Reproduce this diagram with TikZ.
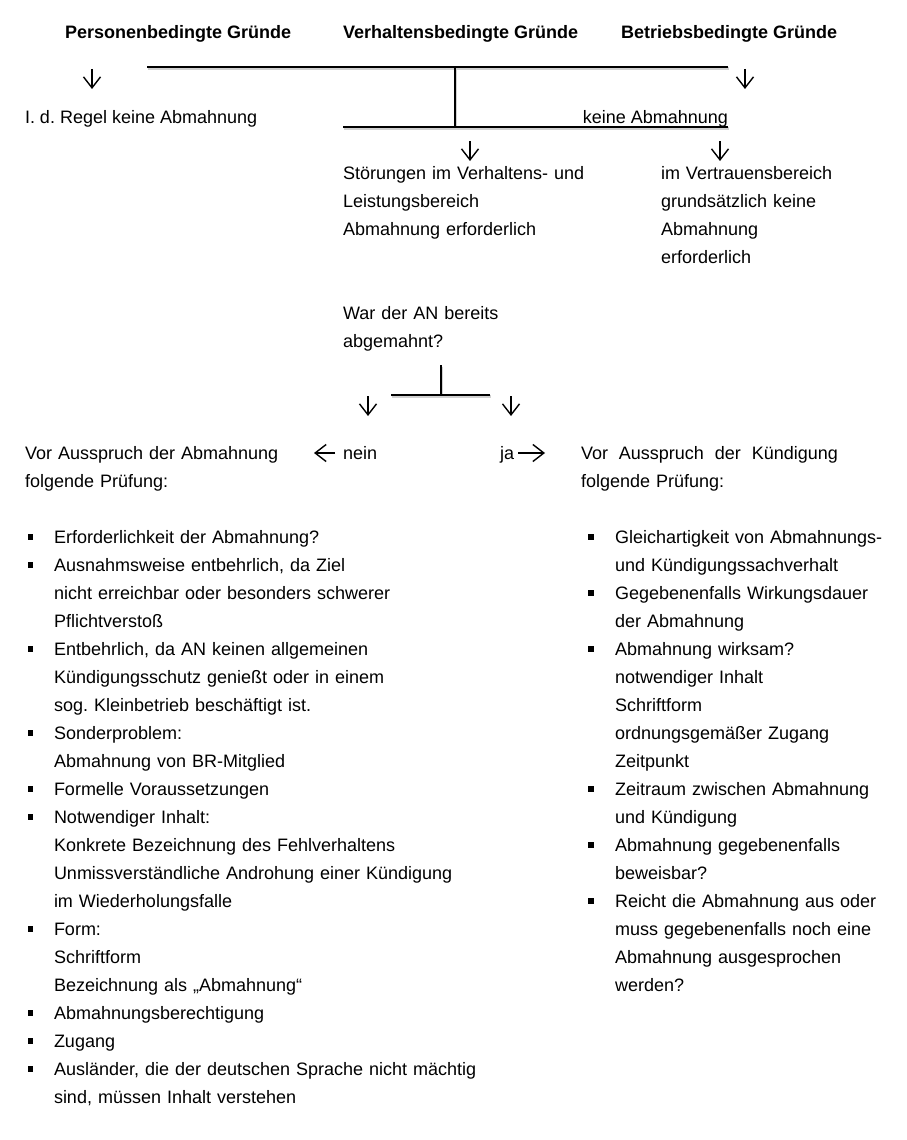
\documentclass[tikz,border=0pt]{standalone}
\usepackage{fontspec}
\setmainfont{Liberation Sans}
\usetikzlibrary{arrows.meta}
\frenchspacing
\begin{document}
\begin{tikzpicture}[x=1pt,y=-1pt,
  txt/.style={anchor=base west, inner sep=0pt, outer sep=0pt, align=left, font=\fontsize{18}{28}\selectfont\frenchspacing},
  hd/.style={txt, font=\fontsize{18}{28}\selectfont\bfseries},
  shadowed/.style={preaction={draw=black!18, line width=2.4pt, transform canvas={shift={(1.2pt,-1.6pt)}}}},
  ln/.style={line width=1.8pt, shadowed},
  arr/.style={line width=1.4pt, -{Straight Barb[length=11pt,width=17pt,line width=1.4pt]}},
  bullet/.style={fill=black}
]
\useasboundingbox (0,0) rectangle (906,1140);

% headers
\node[hd] (hp) at (65,38) {Personenbedingte Gründe};
\node[hd] (hv) at (343,38) {Verhaltensbedingte Gründe};
\node[hd] (hb) at (621,38) {Betriebsbedingte Gründe};

% tree lines
\coordinate (l1a) at (147,67);
\coordinate (l1b) at (728,67);
\coordinate (l1m) at (455,67);
\coordinate (l2m) at (455,127);
\coordinate (l2a) at (343,127);
\coordinate (l2b) at (728,127);
\draw[ln] (l1a) -- (l1b);
\draw[ln] (l1m) -- (l2m);
\draw[ln] (l2a) -- (l2b);

% texts
\node[txt] (regel) at (25,123) {I. d. Regel keine Abmahnung};
\node[txt, anchor=base east] (keine) at (728,123) {keine Abmahnung};
\node[txt, text width=260pt] (stoer) at (343,179) {Störungen im Verhaltens- und\\Leistungsbereich\\Abmahnung erforderlich};
\node[txt, text width=220pt] (vertr) at (661,179) {im Vertrauensbereich\\grundsätzlich keine\\Abmahnung\\erforderlich};
\node[txt, text width=220pt] (war) at (343,319) {War der AN bereits\\abgemahnt?};

% arrows top
\coordinate (a1s) at (92,69);  \coordinate (a1e) at (92,89);
\coordinate (a2s) at (745,69); \coordinate (a2e) at (745,89);
\coordinate (a3s) at (470,141); \coordinate (a3e) at (470,161);
\coordinate (a4s) at (720,141); \coordinate (a4e) at (720,161);
\draw[arr] (a1s) -- (a1e);
\draw[arr] (a2s) -- (a2e);
\draw[arr] (a3s) -- (a3e);
\draw[arr] (a4s) -- (a4e);

% question fork
\coordinate (q1) at (441,365);
\coordinate (q2) at (441,394);
\coordinate (q3) at (391,395);
\coordinate (q4) at (490,395);
\draw[ln] (q1) -- (q2);
\draw[ln] (q3) -- (q4);
\coordinate (a5s) at (368,396); \coordinate (a5e) at (368,416);
\coordinate (a6s) at (511,396); \coordinate (a6e) at (511,416);
\draw[arr] (a5s) -- (a5e);
\draw[arr] (a6s) -- (a6e);

% nein / ja
\node[txt] (nein) at (343,459) {nein};
\node[txt] (ja) at (500,459) {ja};
\coordinate (n1) at (335,453); \coordinate (n2) at (314,453);
\coordinate (j1) at (518,453); \coordinate (j2) at (545,453);
\draw[arr] (n1) -- (n2);
\draw[arr] (j1) -- (j2);

% Vor Ausspruch
\node[txt, text width=300pt] (vorL) at (25,459) {Vor Ausspruch der Abmahnung\\folgende Prüfung:};
\node[txt, text width=257pt] (vorR) at (581,459) {Vor\hfill Ausspruch\hfill der\hfill Kündigung\\folgende Prüfung:};

% left list
\node[txt, text width=440pt] (listL) at (54,543) {Erforderlichkeit der Abmahnung?\\
Ausnahmsweise entbehrlich, da Ziel\\
nicht erreichbar oder besonders schwerer\\
Pflichtverstoß\\
Entbehrlich, da AN keinen allgemeinen\\
Kündigungsschutz genießt oder in einem\\
sog. Kleinbetrieb beschäftigt ist.\\
Sonderproblem:\\
Abmahnung von BR-Mitglied\\
Formelle Voraussetzungen\\
Notwendiger Inhalt:\\
Konkrete Bezeichnung des Fehlverhaltens\\
Unmissverständliche Androhung einer Kündigung\\
im Wiederholungsfalle\\
Form:\\
Schriftform\\
Bezeichnung als „Abmahnung“\\
Abmahnungsberechtigung\\
Zugang\\
Ausländer, die der deutschen Sprache nicht mächtig\\
sind, müssen Inhalt verstehen};
\foreach \k in {0,1,4,7,9,10,14,17,18,19}
  \fill[bullet] (27.5,{543+28*\k-9}) rectangle ++(5.5,5.5);

% right list
\node[txt, text width=285pt] (listR) at (615,543) {Gleichartigkeit von Abmahnungs-\\
und Kündigungssachverhalt\\
Gegebenenfalls Wirkungsdauer\\
der Abmahnung\\
Abmahnung wirksam?\\
notwendiger Inhalt\\
Schriftform\\
ordnungsgemäßer Zugang\\
Zeitpunkt\\
Zeitraum zwischen Abmahnung\\
und Kündigung\\
Abmahnung gegebenenfalls\\
beweisbar?\\
Reicht die Abmahnung aus oder\\
muss gegebenenfalls noch eine\\
Abmahnung ausgesprochen\\
werden?};
\foreach \k in {0,2,4,9,11,13}
  \fill[bullet] (588,{543+28*\k-9}) rectangle ++(5.5,5.5);
\end{tikzpicture}
\end{document}
